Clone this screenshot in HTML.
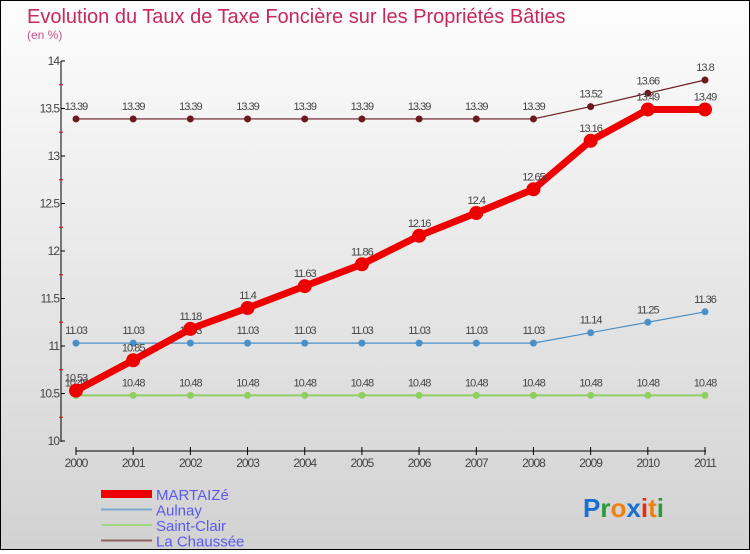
<!DOCTYPE html>
<html><head><meta charset="utf-8"><style>
body{margin:0;width:750px;height:550px;overflow:hidden;font-family:"Liberation Sans",sans-serif}
#wrap{position:relative;width:748px;height:548px;border:1px solid #000;background:linear-gradient(#fdfdfd,#d2d2d2)}
</style></head><body>
<div id="wrap">
<svg id="chart" width="748" height="548">
<text x="26" y="22" font-size="20" fill="#c8285a">Evolution du Taux de Taxe Foncière sur les Propriétés Bâties</text>
<text x="26" y="38" font-size="12" fill="#c8508a">(en %)</text>
<text x="582" y="516" font-size="26" font-weight="bold"><tspan fill="#1a6fd0">P</tspan><tspan fill="#2a9a3a">r</tspan><tspan fill="#f08010">o</tspan><tspan fill="#1a6fd0">x</tspan><tspan fill="#e03010">i</tspan><tspan fill="#f08010">t</tspan><tspan fill="#2a9a3a">i</tspan></text>
</svg></div>
<script>
const years=["2000","2001","2002","2003","2004","2005","2006","2007","2008","2009","2010","2011"];
const yTicks=[10,10.5,11,11.5,12,12.5,13,13.5,14];
const martaize=[10.53,10.85,11.18,11.4,11.63,11.86,12.16,12.4,12.65,13.16,13.49,13.49];
const aulnay=[11.03,11.03,11.03,11.03,11.03,11.03,11.03,11.03,11.03,11.14,11.25,11.36];
const saintClair=[10.48,10.48,10.48,10.48,10.48,10.48,10.48,10.48,10.48,10.48,10.48,10.48];
const chaussee=[13.39,13.39,13.39,13.39,13.39,13.39,13.39,13.39,13.39,13.52,13.66,13.8];
const NS="http://www.w3.org/2000/svg",svg=document.getElementById('chart');
const X=i=>75+i*(629/11), Y=v=>440-(v-10)*95;
function el(t,a){const e=document.createElementNS(NS,t);for(const k in a)e.setAttribute(k,a[k]);svg.appendChild(e);return e;}
let e=el('line',{x1:60,y1:60,x2:60,y2:441,stroke:'#000'});


e=el('line',{x1:75,y1:450,x2:705,y2:450,stroke:'#000'});


yTicks.forEach((v,i)=>{
 el('line',{x1:60,y1:Y(v),x2:64,y2:Y(v),stroke:'#000'});
 if(i<yTicks.length-1) el('line',{x1:58,y1:Y(v+0.25),x2:62,y2:Y(v+0.25),stroke:'#e00'});
 const t=el('text',{x:58,y:Y(v)+4,'font-size':12,fill:'#444','text-anchor':'end','letter-spacing':'-1'});t.textContent=String(v);
 
 
});
years.forEach((y,i)=>{
 el('line',{x1:X(i),y1:446,x2:X(i),y2:454,stroke:'#000'});
 const t=el('text',{x:X(i),y:466,'font-size':12,fill:'#444','text-anchor':'middle','letter-spacing':'-1'});t.textContent=y;
 
 
});
function series(d,color,w,r,name){
 const p=el('polyline',{points:d.map((v,i)=>X(i)+','+Y(v)).join(' '),fill:'none',stroke:color,'stroke-width':w});
 
 
 d.forEach((v,i)=>{
  const c=el('circle',{cx:X(i),cy:Y(v),r:r,fill:color});
  
  
  const t=el('text',{x:X(i),y:Y(v)-9,'font-size':11,fill:'#444','text-anchor':'middle','letter-spacing':'-1'});t.textContent=String(v);
  
  
 });
}
series(chaussee,'#6b1a20',1.2,3.5,'la-chaussee');
series(saintClair,'#8ed060',2,3.5,'saint-clair');
series(aulnay,'#4a90c8',1.2,3.5,'aulnay');
series(martaize,'#ee0000',7,7,'martaize');
const leg=[['MARTAIZé','#ee0000',8],['Aulnay','#7aa8d0',2],['Saint-Clair','#a0d880',2],['La Chaussée','#906060',2]];
leg.forEach((l,i)=>{
 const y=493+i*15.5;
 const ln=el('line',{x1:100,y1:y,x2:151,y2:y,stroke:l[1],'stroke-width':l[2]});
 
 
 const t=el('text',{x:155,y:y+6,'font-size':15,fill:'#5a5af0'});t.textContent=l[0];
 
 
});
</script>
</body></html>
